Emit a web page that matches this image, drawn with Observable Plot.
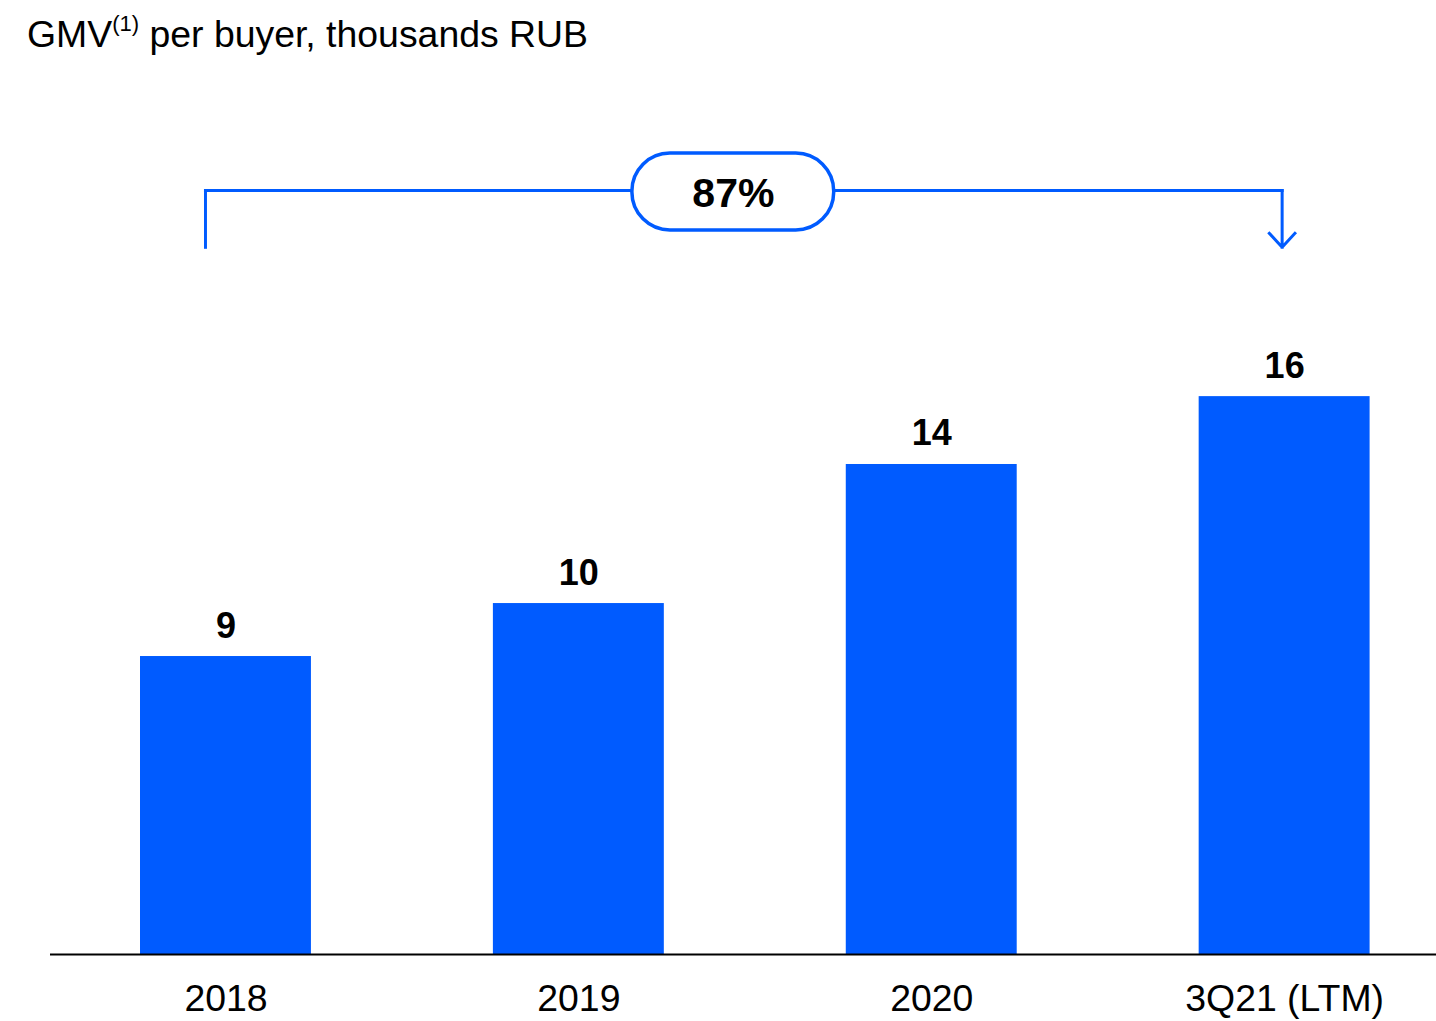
<!DOCTYPE html>
<html>
<head>
<meta charset="utf-8">
<script src="https://cdn.jsdelivr.net/npm/d3@7"></script>
<script src="https://cdn.jsdelivr.net/npm/@observablehq/plot@0.6"></script>
<style>
  html, body { margin: 0; padding: 0; background: #fff; }
  body { width: 1436px; height: 1021px; overflow: hidden; font-family: "Liberation Sans", Arial, sans-serif; }
  #title { position: relative; height: 70px; }
  #title span.t { position: absolute; left: 27px; top: 16px; font-size: 37.4px; line-height: 36px; color: #000; white-space: nowrap; }
  #title sup { font-size: 22px; position: relative; top: -2px; vertical-align: 14px; line-height: 0; }
  #chart svg { display: block; }
</style>
</head>
<body>
<div id="title"><span class="t">GMV<sup>(1)</sup> per buyer, thousands RUB</span></div>
<div id="chart"></div>
<script>
// Categories, bar values and printed labels
const categories = ["2018", "2019", "2020", "3Q21 (LTM)"];
const values = [9.0, 10.6, 14.8, 16.85];
const valueLabels = ["9", "10", "14", "16"];

// Growth annotation (bracket from first to last period)
const growthLabel = ["87%"];
const bracketFrom = ["2018"];
const bracketTo = ["3Q21 (LTM)"];
const bracketLevel = [23.0755]; // y of horizontal bracket line (data units)
const bracketFoot = [21.36];    // y of vertical ends (data units)
const pillSpan = [["2019", "2020"]];
const pillBounds = [[21.87, 24.19]];

const blue = "#005BFF";
const data = categories.map((c, i) => ({cat: c, value: values[i], label: valueLabels[i]}));

const lvl = bracketLevel[0], foot = bracketFoot[0];
const from = bracketFrom[0], to = bracketTo[0];

const chart = Plot.plot({
  width: 1436,
  height: 951,
  marginLeft: 50,
  marginRight: 0,
  marginTop: 0,
  marginBottom: 67,
  style: {fontFamily: "'Liberation Sans', Arial, sans-serif", color: "#000", background: "#fff"},
  x: {domain: categories, range: [140, 1369.6], paddingInner: 0.5156, paddingOuter: 0, round: false, label: null},
  y: {domain: [0, 26.7], axis: null},
  marks: [
    Plot.barY(data, {x: "cat", y: "value", fill: blue}),
    Plot.ruleY([0], {stroke: "#000", strokeWidth: 2}),
    Plot.axisX({tickSize: 0, tickPadding: 30, fontSize: 37.4, label: null}),
    Plot.text(data, {x: "cat", y: "value", text: "label", dy: -19, lineAnchor: "bottom", fontSize: 36, fontWeight: "bold", fill: "#000"}),
    // bracket
    Plot.link([{a: from, b: from}], {x1: "a", x2: "b", y1: () => foot, y2: () => lvl, dx: -20.5, stroke: blue, strokeWidth: 3, strokeLinecap: "square"}),
    Plot.link([{a: from, b: categories[2]}], {x1: "a", x2: "b", y1: () => lvl, y2: () => lvl, dx: -20.5, stroke: blue, strokeWidth: 3, strokeLinecap: "square"}),
    Plot.link([{a: categories[1], b: to}], {x1: "a", x2: "b", y1: () => lvl, y2: () => lvl, dx: -2.5, stroke: blue, strokeWidth: 3, strokeLinecap: "square"}),
    Plot.arrow([{a: to}], {x1: "a", x2: "a", y1: () => lvl, y2: () => foot, dx: -2.5, stroke: blue, strokeWidth: 3, headAngle: 85, headLength: 15, strokeLinecap: "square"}),
    // pill
    Plot.rect(pillSpan.map((s, i) => ({a: s[0], b: s[1], lo: pillBounds[i][0], hi: pillBounds[i][1]})),
      {x1: "a", x2: "b", y1: "lo", y2: "hi", insetLeft: 139, insetRight: 183, rx: 38, fill: "#fff", stroke: blue, strokeWidth: 3.5}),
    Plot.text(growthLabel, {x: () => categories[1], y: () => lvl, text: d => d, dx: 154.5, dy: 3, fontSize: 41, fontWeight: "bold", fill: "#000"})
  ]
});
document.getElementById("chart").appendChild(chart);
</script>
</body>
</html>
